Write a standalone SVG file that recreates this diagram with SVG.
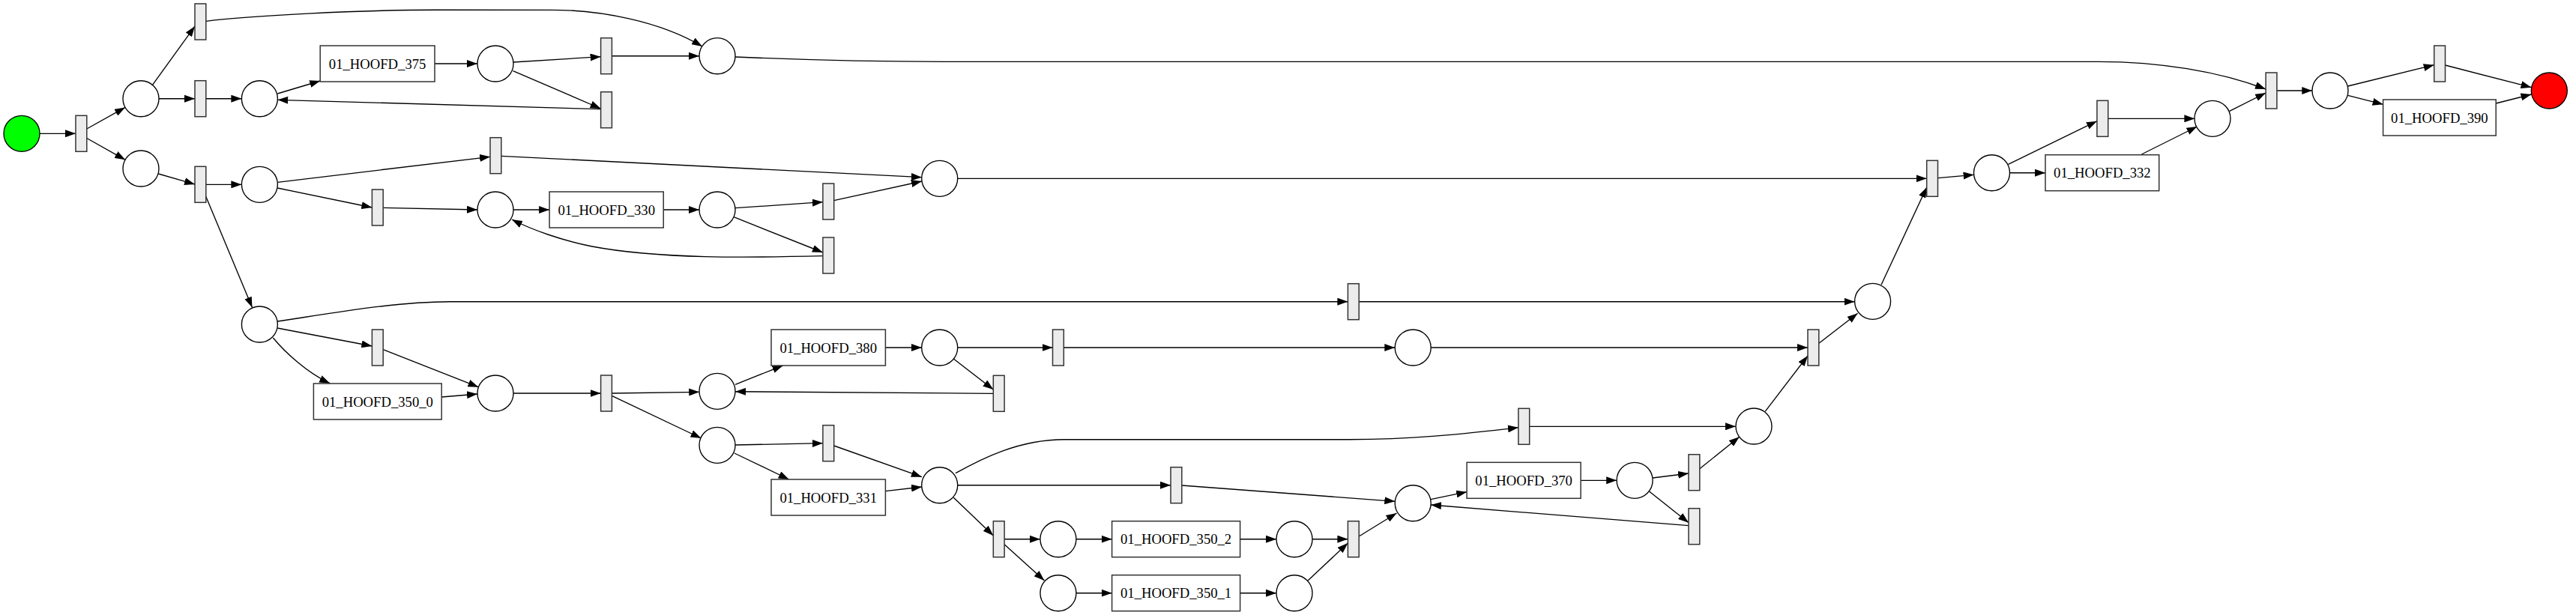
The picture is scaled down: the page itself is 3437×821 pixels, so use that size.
<svg xmlns="http://www.w3.org/2000/svg" width="3437" height="821" viewBox="0 0 3437 821">
<defs>
<marker id="ah" viewBox="0 0 14 10" markerWidth="14" markerHeight="10" refX="14" refY="5" orient="auto" markerUnits="userSpaceOnUse">
<path d="M0,0 L14,5 L0,10 z" fill="#000"/>
</marker>
<style>
.p{fill:#fff;stroke:#000;stroke-width:1.35}
.t{fill:#ececec;stroke:#333;stroke-width:1.5}
.b{fill:#fff;stroke:#333;stroke-width:1.5}
.l{font-family:"Liberation Serif","Times New Roman",serif;font-size:18.67px;text-anchor:middle;fill:#000}
#edges path{fill:none;stroke:#000;stroke-width:1.35;marker-end:url(#ah)}
</style>
</defs>
<rect width="3437" height="821" fill="#fff"/>
<g id="edges">
<path d="M53,178.3 L101,178.3"/>
<path d="M115.8,172 L167,143.4"/>
<path d="M115.8,184.5 L167.1,213.3"/>
<path d="M203.5,113.3 L260,35"/>
<path d="M212,131.7 L260,131.7"/>
<path d="M274.8,131.7 L322.4,131.7"/>
<path d="M370.3,125 L427.2,108"/>
<path d="M801.6,145.7 L370.4,133.3"/>
<path d="M580,85 L637,85"/>
<path d="M685,83 L801.6,75.7"/>
<path d="M684.5,94.7 L801.6,145"/>
<path d="M816.4,74.7 L933,74.7"/>
<path d="M274.8,28.3 C330,21 480,13.3 580,13.3 L736,13.3 C800,13.3 880,28 937,62"/>
<path d="M981,76 C1050,79 1150,82.3 1260,82.3 L2800,82.3 C2880,82.3 2960,95 3023,119"/>
<path d="M211.3,232 L260,246"/>
<path d="M274.8,246.3 L322.4,246.3"/>
<path d="M274.6,262 L336.5,410.5"/>
<path d="M370.3,243.3 L654,209.3"/>
<path d="M370.3,251 L496.4,277"/>
<path d="M511.2,277.3 L637,280"/>
<path d="M668.8,208.3 L1229.9,236.7"/>
<path d="M685,280 L733.1,280"/>
<path d="M885.2,280 L933,280"/>
<path d="M981,277.7 L1097.9,269.7"/>
<path d="M979,289.7 L1097.9,337"/>
<path d="M1097.9,341.7 C1000,344 880,346 790,329 C750,321 710,307 683,293"/>
<path d="M1112.7,267.7 L1229.9,242"/>
<path d="M1277.6,238.3 L2570.7,238.3"/>
<path d="M370.3,438 L496.4,462"/>
<path d="M364.4,451 C380,470 410,498 440.2,511.7"/>
<path d="M370.3,429 C450,417 530,402.7 600,402.7 L1798.4,402.7"/>
<path d="M511.2,466.7 L638.4,516.7"/>
<path d="M589.2,530 L637,526"/>
<path d="M685,525 L801.6,525"/>
<path d="M816.4,525 L933.2,523.3"/>
<path d="M816.4,528.3 L935.5,585"/>
<path d="M981,513.3 L1044.6,488"/>
<path d="M1325.3,525.3 L981,522.7"/>
<path d="M1181.4,464 L1229.9,464"/>
<path d="M1277.6,464 L1404.5,464"/>
<path d="M1272.3,479 L1325.3,520"/>
<path d="M1419.3,464 L1861.3,464"/>
<path d="M1909,464 L2412,464"/>
<path d="M981,594 L1097.9,591.7"/>
<path d="M979.9,605 L1052.7,640"/>
<path d="M1112.7,595 L1229.9,636.7"/>
<path d="M1181.4,655.7 L1229.9,650"/>
<path d="M1275,631.7 C1310,612 1360,586.7 1420,586.7 L1800,586.7 C1880,586.7 1950,580 2025.9,570.7"/>
<path d="M1277.6,647.7 L1562,647.7"/>
<path d="M1272.3,664.3 L1325.3,715"/>
<path d="M1576.9,648 L1861.3,669.3"/>
<path d="M1340.1,719.7 L1387.8,719.7"/>
<path d="M1340.1,726.7 L1393.4,775"/>
<path d="M1435.9,719.7 L1483.6,719.7"/>
<path d="M1435.9,791.7 L1483.6,791.7"/>
<path d="M1654.6,719.7 L1703,719.7"/>
<path d="M1654.6,791.7 L1703,791.7"/>
<path d="M1751,719.7 L1798.4,719.7"/>
<path d="M1745.1,775 L1798.4,725"/>
<path d="M1813.2,716 L1863.5,685"/>
<path d="M1909,666.7 L1957.1,656.7"/>
<path d="M2253,701.7 L1909,674"/>
<path d="M2109.1,641.3 L2157.2,641.3"/>
<path d="M2205,638 L2253,632"/>
<path d="M2200.5,656 L2253,697.7"/>
<path d="M2267.8,625.7 L2320.7,583.3"/>
<path d="M2040.7,569.3 L2315.9,569.3"/>
<path d="M2355.1,549.3 L2412,475"/>
<path d="M2426.9,458.3 L2478.6,418.3"/>
<path d="M1813.2,402.7 L2474.6,402.7"/>
<path d="M2510.1,380 L2570.7,250"/>
<path d="M2585.5,237.7 L2633.6,233.3"/>
<path d="M2679.5,219.3 L2797.9,161.7"/>
<path d="M2681.3,230.7 L2729,230.7"/>
<path d="M2812.7,158.3 L2928.4,158.3"/>
<path d="M2857.4,206 L2931.4,169"/>
<path d="M2974.7,148.3 L3023.1,124"/>
<path d="M3037.9,121 L3085.3,121"/>
<path d="M3132.6,115 L3247.7,86.7"/>
<path d="M3132.6,127.3 L3179.6,139.3"/>
<path d="M3262.5,87 L3377.5,116.7"/>
<path d="M3330.2,138 L3377.5,126"/>
</g>
<g id="places">
<g id="p_start"><circle class="p" cx="29" cy="178.3" r="24" style="fill:#00ff00"/></g>
<g id="p_a"><circle class="p" cx="188" cy="131.7" r="24"/></g>
<g id="p_b"><circle class="p" cx="188" cy="225" r="24"/></g>
<g id="p_c"><circle class="p" cx="346.4" cy="131.7" r="24"/></g>
<g id="p_d"><circle class="p" cx="346.4" cy="246.3" r="24"/></g>
<g id="p_e"><circle class="p" cx="346.4" cy="433" r="24"/></g>
<g id="p_f"><circle class="p" cx="661" cy="85" r="24"/></g>
<g id="p_g"><circle class="p" cx="957" cy="74.7" r="24"/></g>
<g id="p_h"><circle class="p" cx="661" cy="280" r="24"/></g>
<g id="p_i"><circle class="p" cx="957" cy="280" r="24"/></g>
<g id="p_j"><circle class="p" cx="661" cy="525" r="24"/></g>
<g id="p_k"><circle class="p" cx="957" cy="522.3" r="24"/></g>
<g id="p_l"><circle class="p" cx="957" cy="594.3" r="24"/></g>
<g id="p_m"><circle class="p" cx="1253.7" cy="238.3" r="24"/></g>
<g id="p_n"><circle class="p" cx="1253.7" cy="464" r="24"/></g>
<g id="p_o"><circle class="p" cx="1253.7" cy="647.7" r="24"/></g>
<g id="p_p"><circle class="p" cx="1411.9" cy="719.7" r="24"/></g>
<g id="p_q"><circle class="p" cx="1411.9" cy="791.7" r="24"/></g>
<g id="p_u"><circle class="p" cx="1727" cy="719.7" r="24"/></g>
<g id="p_v"><circle class="p" cx="1727" cy="791.7" r="24"/></g>
<g id="p_r"><circle class="p" cx="1885.2" cy="464" r="24"/></g>
<g id="p_s"><circle class="p" cx="1885.2" cy="671.7" r="24"/></g>
<g id="p_t"><circle class="p" cx="2181.1" cy="641.3" r="24"/></g>
<g id="p_aa"><circle class="p" cx="2340" cy="569" r="24"/></g>
<g id="p_y"><circle class="p" cx="2498.6" cy="402.3" r="24"/></g>
<g id="p_w"><circle class="p" cx="2657.5" cy="230.7" r="24"/></g>
<g id="p_bb"><circle class="p" cx="2952" cy="158.3" r="24"/></g>
<g id="p_cc"><circle class="p" cx="3109" cy="121" r="24"/></g>
<g id="p_end"><circle class="p" cx="3401.3" cy="121" r="24" style="fill:#ff0000"/></g>
</g>
<g id="transitions">
<g id="t1"><rect class="t" x="101" y="154.3" width="14.8" height="48"/></g>
<g id="t_top"><rect class="t" x="260" y="5" width="14.8" height="48"/></g>
<g id="t_a2"><rect class="t" x="260" y="107.7" width="14.8" height="48"/></g>
<g id="t_b"><rect class="t" x="260" y="222.3" width="14.8" height="48"/></g>
<g id="t_d2"><rect class="t" x="496.4" y="253" width="14.8" height="48"/></g>
<g id="t_e2"><rect class="t" x="496.4" y="440" width="14.8" height="48"/></g>
<g id="t_f1"><rect class="t" x="801.6" y="50.7" width="14.8" height="48"/></g>
<g id="t_f2"><rect class="t" x="801.6" y="122.7" width="14.8" height="48"/></g>
<g id="t_d1"><rect class="t" x="654" y="183.7" width="14.8" height="48"/></g>
<g id="t_i1"><rect class="t" x="1097.9" y="245" width="14.8" height="48"/></g>
<g id="t_i2"><rect class="t" x="1097.9" y="317" width="14.8" height="48"/></g>
<g id="t_j"><rect class="t" x="801.6" y="501" width="14.8" height="48"/></g>
<g id="t_l1"><rect class="t" x="1097.9" y="567.7" width="14.8" height="48"/></g>
<g id="t_n1"><rect class="t" x="1404.5" y="440" width="14.8" height="48"/></g>
<g id="t_n2"><rect class="t" x="1325.3" y="501.3" width="14.8" height="48"/></g>
<g id="t_o1"><rect class="t" x="1562" y="623.7" width="14.8" height="48"/></g>
<g id="t_o2"><rect class="t" x="1325.3" y="695.7" width="14.8" height="48"/></g>
<g id="t_long"><rect class="t" x="1798.4" y="378.7" width="14.8" height="48"/></g>
<g id="t_r2"><rect class="t" x="2025.9" y="545.3" width="14.8" height="48"/></g>
<g id="t_join"><rect class="t" x="1798.4" y="695.7" width="14.8" height="48"/></g>
<g id="t_t1"><rect class="t" x="2253" y="606.7" width="14.8" height="48"/></g>
<g id="t_t2"><rect class="t" x="2253" y="678.7" width="14.8" height="48"/></g>
<g id="t_z"><rect class="t" x="2412" y="440" width="14.8" height="48"/></g>
<g id="t_x"><rect class="t" x="2570.7" y="214.3" width="14.8" height="48"/></g>
<g id="t_w1"><rect class="t" x="2797.9" y="134.3" width="14.8" height="48"/></g>
<g id="t_fin"><rect class="t" x="3023.1" y="97" width="14.8" height="48"/></g>
<g id="t_skip"><rect class="t" x="3247.7" y="61" width="14.8" height="48"/></g>
</g>
<g id="activities">
<g id="b375"><rect class="b" x="427.2" y="61" width="152.8" height="48"/><text class="l" x="503.6" y="91.5">01_HOOFD_375</text></g>
<g id="b330"><rect class="b" x="733.1" y="256" width="152.1" height="48"/><text class="l" x="809.2" y="286.5">01_HOOFD_330</text></g>
<g id="b350_0"><rect class="b" x="418.4" y="512" width="170.8" height="48"/><text class="l" x="503.8" y="542.5">01_HOOFD_350_0</text></g>
<g id="b380"><rect class="b" x="1029" y="440" width="152.4" height="48"/><text class="l" x="1105.2" y="470.5">01_HOOFD_380</text></g>
<g id="b331"><rect class="b" x="1029" y="640" width="152.4" height="48"/><text class="l" x="1105.2" y="670.5">01_HOOFD_331</text></g>
<g id="b350_2"><rect class="b" x="1483.6" y="695.7" width="171" height="48"/><text class="l" x="1569.1" y="726.2">01_HOOFD_350_2</text></g>
<g id="b350_1"><rect class="b" x="1483.6" y="767.7" width="171" height="48"/><text class="l" x="1569.1" y="798.2">01_HOOFD_350_1</text></g>
<g id="b370"><rect class="b" x="1957.1" y="617.3" width="152" height="48"/><text class="l" x="2033.1" y="647.8">01_HOOFD_370</text></g>
<g id="b332"><rect class="b" x="2729" y="206.7" width="151.7" height="48"/><text class="l" x="2804.9" y="237.2">01_HOOFD_332</text></g>
<g id="b390"><rect class="b" x="3179.6" y="133" width="150.6" height="48"/><text class="l" x="3254.9" y="163.5">01_HOOFD_390</text></g>
</g>
</svg>
